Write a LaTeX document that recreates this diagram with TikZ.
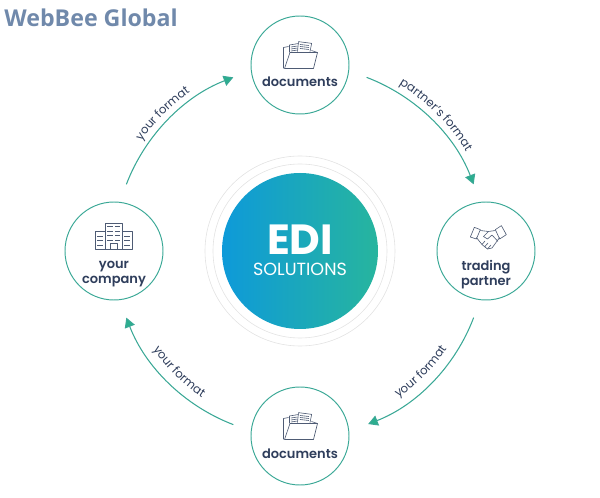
\documentclass[tikz,border=0pt]{standalone}
\usepackage{fontspec}
\setmainfont{Poppins}
\newfontfamily\logofont{Open Sans}
\newfontfamily\partyfont{Poppins SemiBold}
\usepackage{xcolor}
\usepackage{tikz}
\usetikzlibrary{
  positioning,
  arrows.meta,
  decorations.text
}
\definecolor{inkblue}{HTML}{2F3E5C}
\definecolor{flowteal}{HTML}{3AA896}
\definecolor{tipteal}{HTML}{2BAE8E}
\definecolor{ediblue}{HTML}{0E9AD9}
\definecolor{editeal}{HTML}{27B59E}
\definecolor{logoblue}{HTML}{7089AB}
\tikzset{
  party/.style={circle, draw=flowteal, line width=.55pt, fill=white, minimum size=1.96cm, inner sep=0pt},
  partytxt/.style={text=inkblue, font=\partyfont\fontsize{7.4}{8.6}\selectfont, align=center, inner sep=0pt},
  flow/.style={draw=flowteal, line width=.6pt, -{Triangle[length=5.5pt,width=6pt,fill=tipteal]},
    bend left=24, looseness=.89},
  flowtxt/.style={decorate, decoration={text along path, text align=center,
    text={|\fontsize{6.7}{8}\selectfont\color{inkblue}|#1}}},
  ring/.style={draw=black!11, line width=.35pt},
  icon/.style={draw=inkblue!85, line width=.35pt, line join=round},
  pics/foldericon/.style={code={
    \draw[icon] (-.33,-.07)--(-.33,.35)--(-.23,.37);
    \draw[icon] (-.21,.25)--(-.21,.4)--(-.03,.43);
    \draw[icon] (-.05,.27)--(-.03,.467)--(.233,.433)--(.2,.267);
    \draw[icon] (.23,.29)--(.35,.25);
    \draw[icon] (-.31,-.07)--(.27,-.07)--(.35,.25)--(-.2,.25)--cycle;
    \foreach \y in {.28,.32,.36} \draw[icon] (-.18,\y)--(-.05,\y+.02);
    \foreach \y in {.31,.35,.39} \draw[icon] (0,\y+.02)--(.18,\y);
  }},
  pics/buildicon/.style={code={
    \draw[icon] (-.173,.027) rectangle (.173,.56);
    \draw[icon] (-.173,.393)--(-.367,.393)--(-.367,.027)--(.367,.027)--(.367,.393)--(.173,.393);
    \draw[icon] (-.073,.027)--(-.073,.16)--(.073,.16)--(.073,.027);
    \foreach \y in {.22,.31,.4,.49} {
      \draw[icon] (-.13,\y)--(-.02,\y);
      \draw[icon] (.02,\y)--(.13,\y);
    }
    \foreach \y in {.12,.21,.3} {
      \draw[icon] (-.33,\y)--(-.21,\y);
      \draw[icon] (.21,\y)--(.33,\y);
    }
  }},
  pics/shakeicon/.style={code={
    % manschetten
    \draw[icon] (-.313,.28)--(-.233,.473)--(-.113,.427)--(-.193,.24)--cycle;
    \draw[icon] (.187,.427)--(.307,.507)--(.407,.327)--(.273,.24)--cycle;
    % hand onder
    \draw[icon] (-.193,.27)--(-.08,.13)--(.03,.04)--(.12,.06)--(.273,.27);
    \draw[icon] (-.08,.13)--(-.02,.2);
    \draw[icon] (-.03,.08)--(.04,.16);
    \draw[icon] (.03,.04)--(.1,.12);
    % hand boven
    \draw[icon] (-.113,.41)--(.05,.39)--(-.05,.29)--(.03,.24)--(.12,.32)--(.24,.19);
    \draw[icon] (.187,.41)--(.05,.39);
  }}
}
\begin{document}
\begin{tikzpicture}

  \useasboundingbox (-6,-4.94) rectangle (6,5.02);

  \node[font=\logofont\bfseries\fontsize{13.2}{15}\selectfont, text=logoblue, anchor=base west, inner sep=0pt]
    (brand) at (-5.92,4.48) {WebBee Global};

  % middencirkel
  \draw[ring] (0,0) circle (1.9cm);
  \draw[ring] (0,0) circle (1.74cm);
  \node[circle, minimum size=3.12cm, inner sep=0pt, left color=ediblue, right color=editeal] (edi) at (0,0) {};
  \node[text=white, font=\bfseries\fontsize{24}{26}\selectfont, anchor=base, inner sep=0pt]
    (editxt) at (0,-.08) {EDI};
  \node[text=white, font=\fontsize{10}{11}\selectfont, anchor=base, inner sep=0pt]
    (solutions) at (0,-.5) {SOLUTIONS};

  % partijen
  \node[party] (doctop) at (90:3.72) {};
  \node[party] (trading) at (0:3.72) {};
  \node[party] (docbot) at (270:3.7) {};
  \node[party] (company) at (180:3.72) {};

  \node[partytxt, anchor=base] (doctoptxt) at ([yshift=-.44cm]doctop) {documents};
  \node[partytxt, anchor=base] (docbottxt) at ([yshift=-.46cm]docbot) {documents};
  \node[partytxt] (tradingtxt) at ([yshift=-.47cm]trading) {trading\\partner};
  \node[partytxt] (companytxt) at ([yshift=-.47cm]company) {your\\company};

  \pic at (doctop) {foldericon};
  \pic at (docbot) {foldericon};
  \pic at (company) {buildicon};
  \pic at (trading) {shakeicon};

  % pijlen
  \coordinate (ltstart) at (159:3.72);
  \coordinate (ltend) at (111:3.72);
  \coordinate (rtstart) at (69:3.72);
  \coordinate (rtend) at (21:3.72);
  \coordinate (rbstart) at (-21:3.72);
  \coordinate (rbend) at (-68.5:3.72);
  \coordinate (lbstart) at (249:3.72);
  \coordinate (lbend) at (201:3.72);

  \draw[flow] (ltstart) to (ltend);
  \draw[flow] (rtstart) to (rtend);
  \draw[flow] (rbstart) to (rbend);
  \draw[flow] (lbstart) to (lbend);

  % tekst langs de boog
  \path[flowtxt={your format}] (160:3.86) arc (160:110:3.86);
  \path[flowtxt={partner's format}] (70:3.87) arc (70:20:3.87);
  \path[flowtxt={your format}] (-70:3.53) arc (-70:-20:3.53);
  \path[flowtxt={your format}] (200:3.53) arc (200:250:3.53);

\end{tikzpicture}
\end{document}
